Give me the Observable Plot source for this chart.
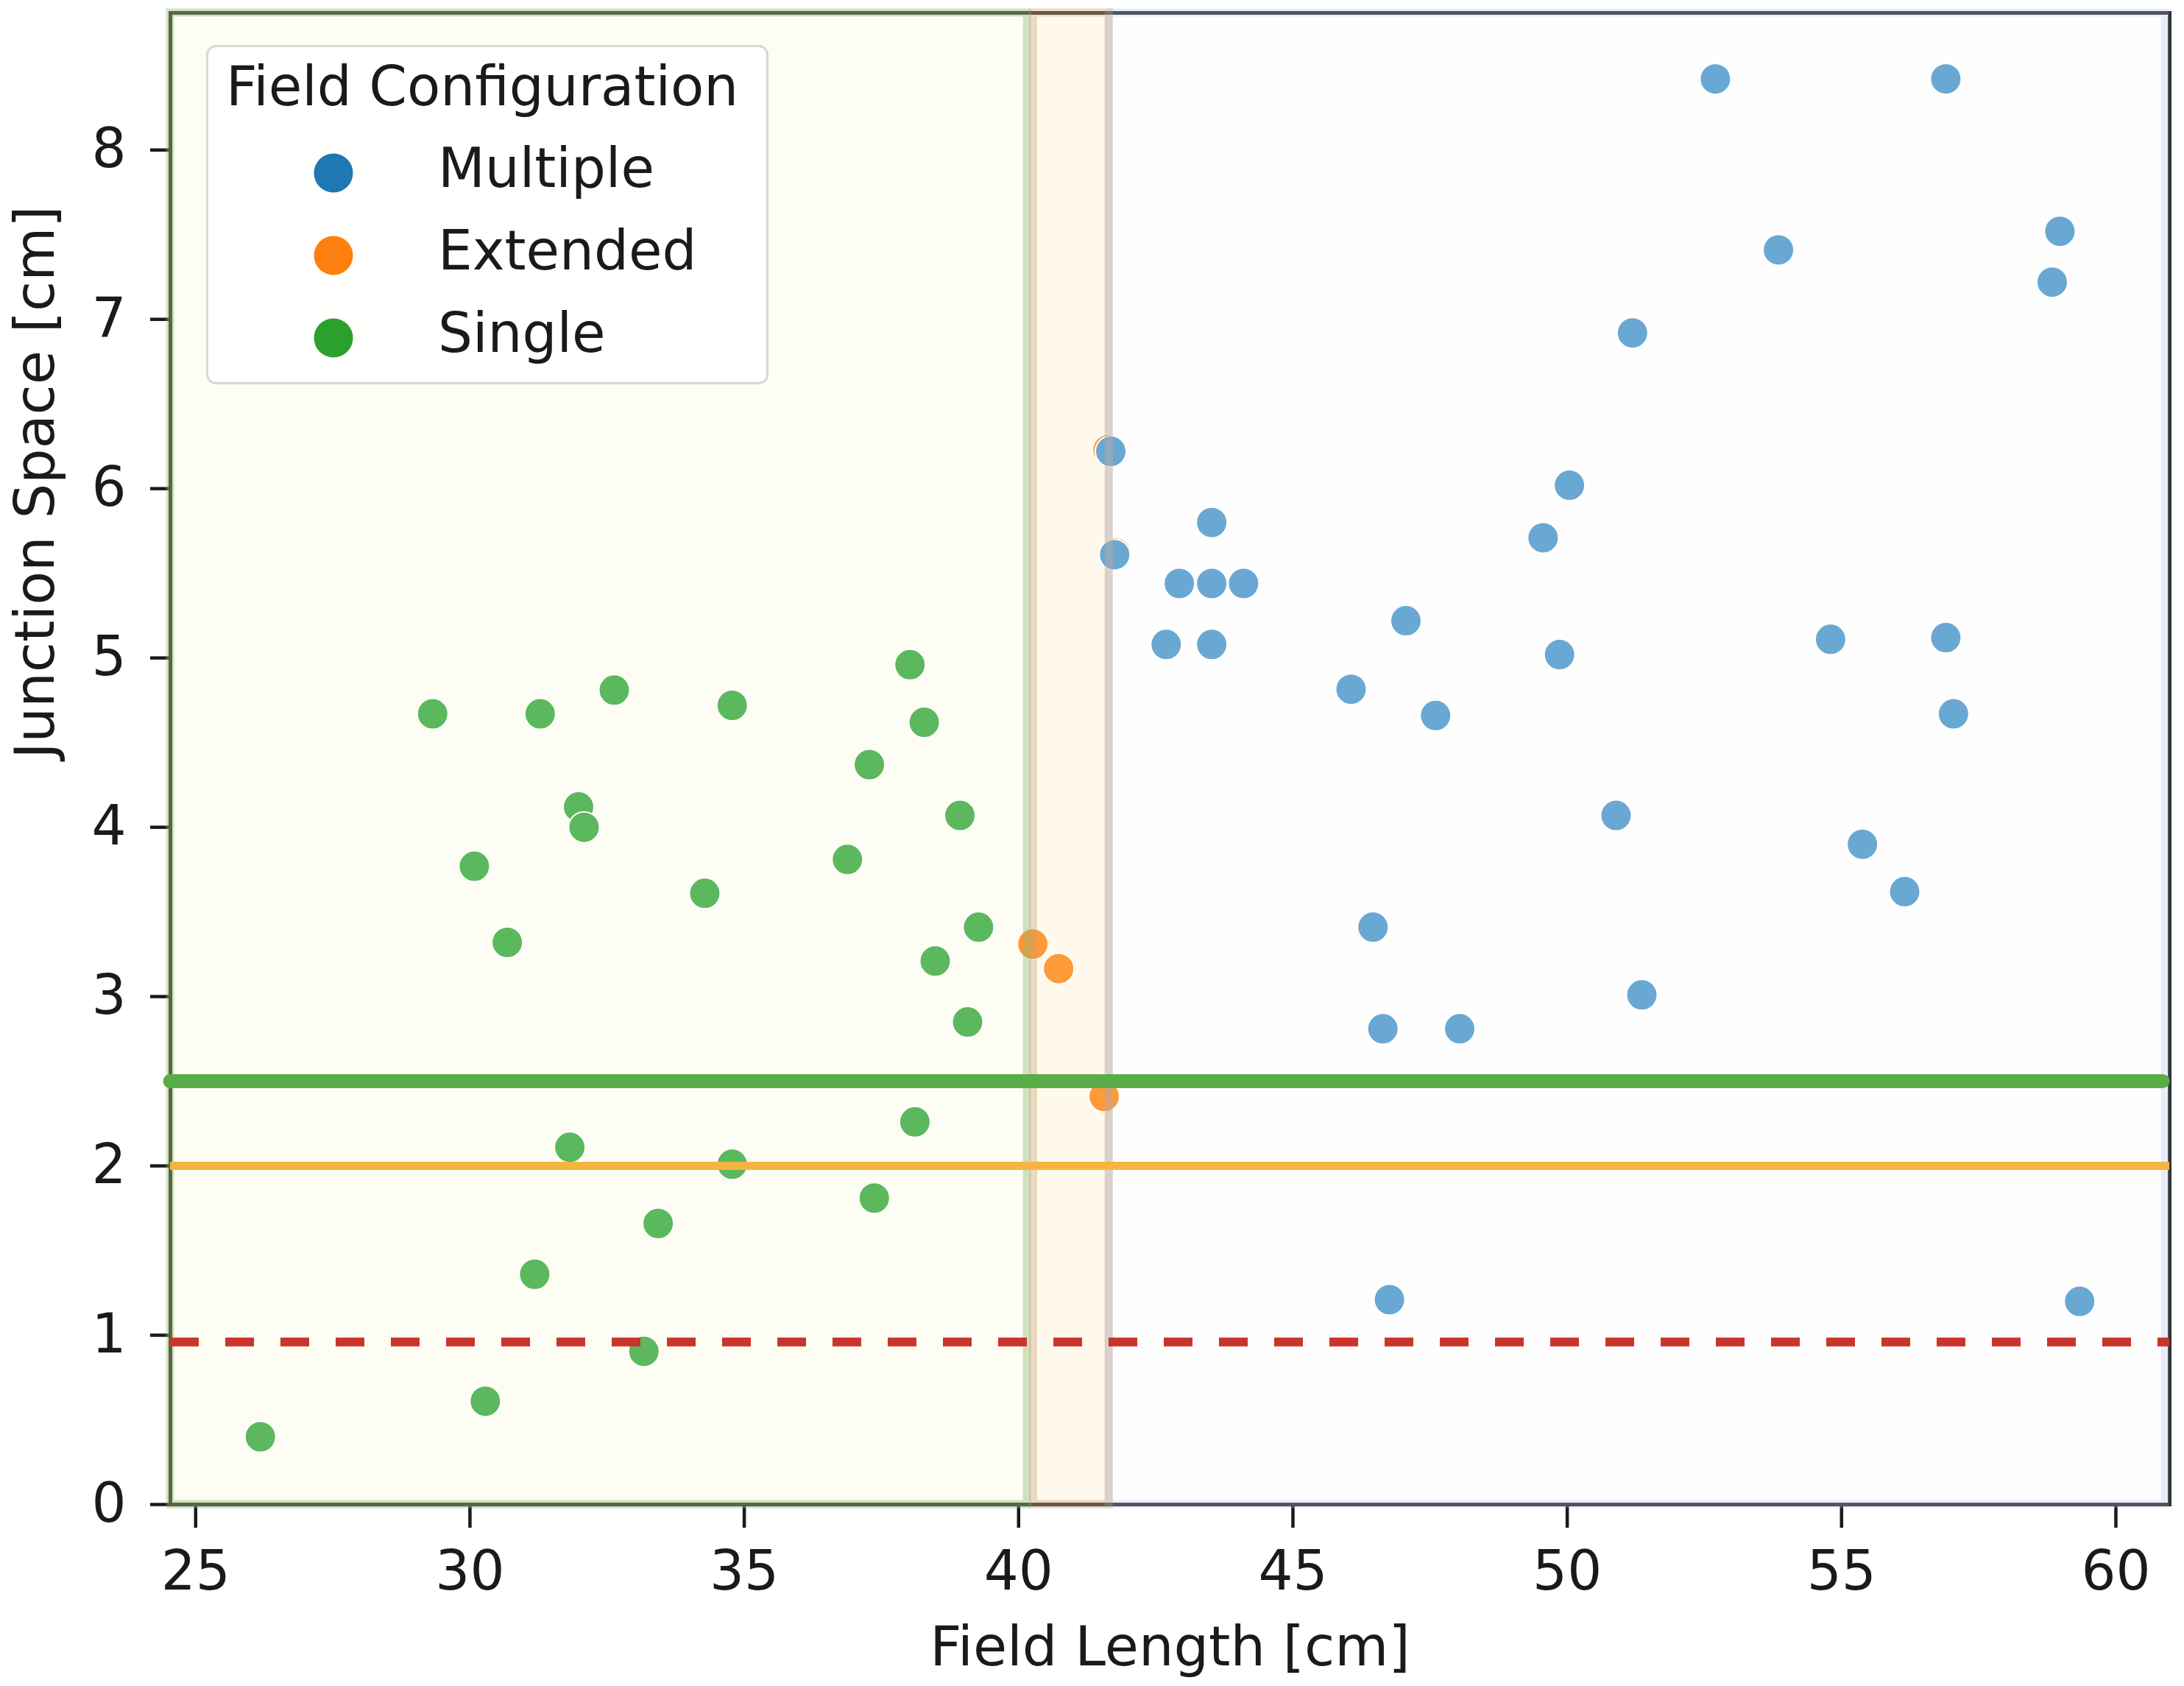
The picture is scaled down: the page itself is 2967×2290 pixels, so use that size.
<!DOCTYPE html>
<html><head><meta charset="utf-8">
<script src="https://cdn.jsdelivr.net/npm/d3@7"></script>
<script src="https://cdn.jsdelivr.net/npm/@observablehq/plot@0.6"></script>
<style>
html,body{margin:0;padding:0;background:#fff;}
#wrap{position:relative;width:2967px;height:2290px;}
#wrap > svg{display:block;}
#legend{position:absolute;left:0;top:0;pointer-events:none;}
svg [aria-label="x-axis tick"] path, svg [aria-label="y-axis tick"] path, svg .tick line {stroke-width:4.5px;}
</style></head><body><div id="wrap"></div>
<script>
// ---- data ----
const categories = ["Multiple", "Extended", "Single"];
const categoryColors = ["#1f77b4", "#ff7f0e", "#2ca02c"];
const legendTitle = "Field Configuration";
const xLabel = "Field Length [cm]";
const yLabel = "Junction Space [cm]";
const xDomain = [24.54, 60.98];
const yDomain = [0, 8.81];
const xTicks = [25, 30, 35, 40, 45, 50, 55, 60];
const yTicks = [0, 1, 2, 3, 4, 5, 6, 7, 8];

const singleX = [29.32,31.28,32.63,34.78,38.02,38.28,37.28,31.98,32.08,38.93,30.08,36.88,34.28,30.68,39.27,38.48,39.07,31.82,34.78,38.11,37.37,33.43,31.18,33.17,30.28,26.18];
const singleY = [4.67,4.67,4.81,4.72,4.96,4.62,4.37,4.12,4.00,4.07,3.77,3.81,3.61,3.32,3.41,3.21,2.85,2.11,2.01,2.26,1.81,1.66,1.36,0.905,0.61,0.40];

const extendedX = [40.26,40.73,41.56,41.63,41.77];
const extendedY = [3.31,3.165,2.41,6.23,5.62];

const multipleX = [52.70,56.90,58.98,58.84,53.85,51.19,41.68,41.75,50.04,49.56,43.52,42.93,43.52,44.10,42.69,43.52,47.06,49.86,54.80,56.90,46.06,47.60,57.04,50.89,55.38,56.15,46.46,51.36,46.64,48.04,46.76,59.34];
const multipleY = [8.42,8.42,7.52,7.22,7.41,6.92,6.22,5.61,6.02,5.71,5.80,5.44,5.44,5.44,5.08,5.08,5.22,5.02,5.11,5.12,4.815,4.66,4.67,4.07,3.90,3.62,3.41,3.01,2.81,2.81,1.21,1.20];

// regions (x ranges) for Single / Extended / Multiple
const regionStart = [24.54, 40.27, 41.65];
const regionEnd = [40.16, 41.65, 60.90];

// threshold lines
const thresholdY = [2.5, 2.0, 0.96];
const thresholdStart = [24.54, 24.54, 24.54];
const thresholdEnd = [60.86, 60.98, 60.98];

// ---- build tables ----
const toRows = (xs, ys) => xs.map((x, i) => ({x, y: ys[i]}));
const single = toRows(singleX, singleY);
const extended = toRows(extendedX, extendedY);
const multiple = toRows(multipleX, multipleY);
const regions = regionStart.map((a, i) => ({x1: a, x2: regionEnd[i]}));
const thresholds = thresholdY.map((y, i) => ({y, x1: thresholdStart[i], x2: thresholdEnd[i]}));

const pointColors = ["#6aa8d4", "#fe9a3a", "#5cb85c"];
const regionFill = ["#fdfdf4", "#fef9ec", "#fefefe"];
const regionEdge = ["#8fb36a", "#c89a6a", "#a8b8e0"];
const regionEdgeOpacity = [0.4, 0.35, 0.25];
const lineColors = ["#5aad46", "#f6b440", "#c9342b"];
const lineWidths = [19, 11, 12];

const W = 2967, H = 2290;
const mL = 231, mR = 20, mT = 17, mB = 247;

const marks = [];
regions.forEach((r, i) => marks.push(Plot.rect([r], {x1: "x1", x2: "x2", fill: regionFill[i]})));
marks.push(Plot.frame({stroke: "#333", strokeWidth: 5}));

const dotOpts = (c) => ({x: "x", y: "y", r: 21, fill: c, stroke: "white", strokeWidth: 2});
marks.push(Plot.dot(single, dotOpts(pointColors[2])));
marks.push(Plot.dot(extended, dotOpts(pointColors[1])));
marks.push(Plot.dot(multiple, dotOpts(pointColors[0])));

regions.forEach((r, i) => marks.push(Plot.rect([r], {x1: "x1", x2: "x2", fill: "none", stroke: regionEdge[i], strokeOpacity: regionEdgeOpacity[i], strokeWidth: 11})));

marks.push(Plot.ruleY([thresholds[0]], {y: "y", x1: "x1", x2: "x2", stroke: lineColors[0], strokeWidth: lineWidths[0], strokeLinecap: "round"}));
marks.push(Plot.ruleY([thresholds[1]], {y: "y", x1: "x1", x2: "x2", stroke: lineColors[1], strokeWidth: lineWidths[1]}));
marks.push(Plot.ruleY([thresholds[2]], {y: "y", x1: "x1", x2: "x2", stroke: lineColors[2], strokeWidth: lineWidths[2], strokeDasharray: "39,36"}));

marks.push(Plot.text([xLabel], {text: d => d, frameAnchor: "bottom", lineAnchor: "top", dy: 165, fontSize: 75, fill: "#1a1a1a"}));
marks.push(Plot.text([yLabel], {text: d => d, frameAnchor: "left", rotate: -90, dx: -183, fontSize: 75, fill: "#1a1a1a"}));

const chart = Plot.plot({
  width: W, height: H,
  marginLeft: mL, marginRight: mR, marginTop: mT, marginBottom: mB,
  style: {fontFamily: "DejaVu Sans", fontSize: "74px", color: "#1a1a1a", background: "#fff"},
  x: {domain: xDomain, ticks: xTicks, tickSize: 32, tickPadding: 31, label: null},
  y: {domain: yDomain, ticks: yTicks, tickSize: 27, tickPadding: 33, label: null},
  marks
});
const wrap = document.getElementById("wrap");
wrap.appendChild(chart);

// ---- legend overlay ----
const lg = d3.select(wrap).append("svg").attr("id", "legend").attr("width", W).attr("height", H)
  .style("font-family", "DejaVu Sans");
lg.append("rect").attr("x", 281.5).attr("y", 62.5).attr("width", 761).attr("height", 458).attr("rx", 12)
  .attr("fill", "#fff").attr("fill-opacity", 0.8).attr("stroke", "#d8d8d8").attr("stroke-width", 3);
lg.append("text").attr("x", 307).attr("y", 143).attr("font-size", 74).attr("fill", "#1a1a1a").text(legendTitle);
categories.forEach((c, i) => {
  const cy = 235 + 112 * i;
  lg.append("circle").attr("cx", 453).attr("cy", cy).attr("r", 26.5).attr("fill", categoryColors[i]);
  lg.append("text").attr("x", 595).attr("y", cy + 19).attr("font-size", 74).attr("fill", "#1a1a1a").text(c);
});
</script></body></html>
